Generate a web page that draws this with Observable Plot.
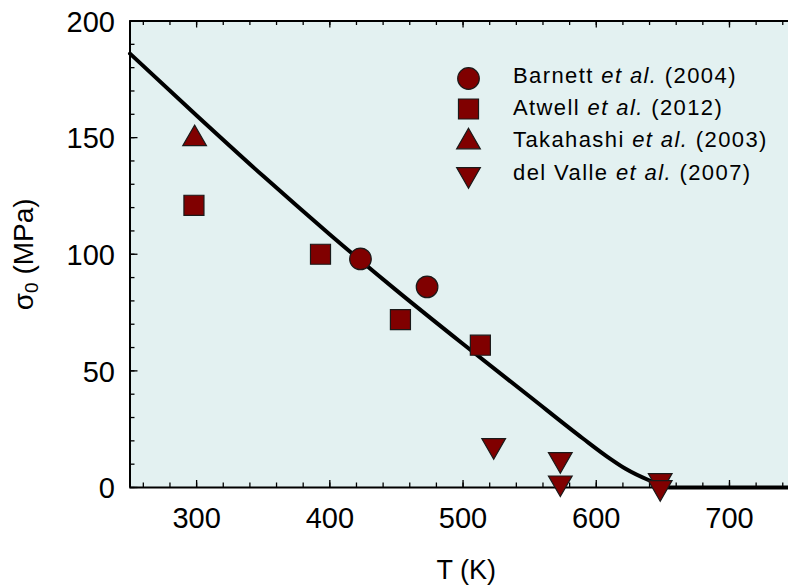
<!DOCTYPE html>
<html><head><meta charset="utf-8">
<script src="https://cdn.jsdelivr.net/npm/d3@7"></script>
<script src="https://cdn.jsdelivr.net/npm/@observablehq/plot@0.6"></script>
<style>
body{margin:0;background:#fff;}
#chart svg{display:block;}
</style></head><body><div id="chart"></div>
<script>
const FONT = "'Liberation Sans', Arial, Helvetica, sans-serif";
const FILL = "#800000";
const EDGE = "#1a1a1a";
const BG = "#e3f1f1";

// model curve
const curveT = [250, 300, 350, 400, 450, 500, 550, 590, 610, 622, 640, 655, 744];
const curveS = [186, 159.5, 133.5, 108.5, 84.5, 61.5, 39, 21, 12.5, 8, 3, 0, 0];

// experimental series
const barnettT = [423, 473];
const barnettS = [98, 86];
const atwellT = [298, 393, 453, 513];
const atwellS = [121, 100, 72, 61];
const takahashiT = [298.5];
const takahashiS = [149.5];
const delValleT = [523, 573, 573, 648, 648];
const delValleS = [18, 12, 2, 3, 0];

// ticks
const xMajor = [300, 400, 500, 600, 700];
const xMinor = d3.range(260, 744, 20);
const yMajor = [0, 50, 100, 150, 200];
const yMinor = d3.range(0, 201, 10);

const legendLabels = ["Barnett et al. (2004)", "Atwell et al. (2012)", "Takahashi et al. (2003)", "del Valle et al. (2007)"];

const triangleDown = {
  draw(context, size) {
    const y = Math.sqrt(size / (Math.sqrt(3) * 3));
    context.moveTo(0, 2 * y);
    context.lineTo(-Math.sqrt(3) * y, -y);
    context.lineTo(Math.sqrt(3) * y, -y);
    context.closePath();
  }
};

const zip = (a, b) => a.map((t, i) => ({t, s: b[i]}));

const W = 788, H = 585, ML = 129.5, MR = 0, MT = 20.5, MB = 98;
const FW = W - ML - MR, FH = H - MT - MB;

const symR = {circle: 10.8, square: 11.3, triangle: 8.8, down: 8.8};
const series = [
  {data: zip(barnettT, barnettS), symbol: "circle", r: symR.circle},
  {data: zip(atwellT, atwellS), symbol: "square", r: symR.square},
  {data: zip(takahashiT, takahashiS), symbol: "triangle", r: symR.triangle},
  {data: zip(delValleT, delValleS), symbol: triangleDown, r: symR.down}
];

const legendMarkerY = [78, 108.5, 141.5, 174];
const legendTextY = [75.3, 107.6, 139.9, 172.2];

const marks = [
  Plot.frame({fill: BG, stroke: null}),
  // inward ticks
  Plot.tickX(xMinor, {x: d => d, insetTop: FH - 4.5, stroke: "#000", strokeWidth: 1.3}),
  Plot.tickX(xMajor, {x: d => d, insetTop: FH - 7, stroke: "#000", strokeWidth: 1.3}),
  Plot.tickX(xMinor, {x: d => d, insetBottom: FH - 4.5, stroke: "#000", strokeWidth: 1.3}),
  Plot.tickX(xMajor, {x: d => d, insetBottom: FH - 7, stroke: "#000", strokeWidth: 1.3}),
  Plot.tickY(yMinor, {y: d => d, insetRight: FW - 5, stroke: "#000", strokeWidth: 1.3}),
  Plot.tickY(yMajor, {y: d => d, insetRight: FW - 8, stroke: "#000", strokeWidth: 1.3}),
  // frame lines
  Plot.ruleX([250], {stroke: "#000", strokeWidth: 2}),
  Plot.ruleY([0], {stroke: "#000", strokeWidth: 2}),
  Plot.ruleY([200], {stroke: "#000", strokeWidth: 2}),
  // tick labels
  Plot.text(xMajor, {x: d => d, text: d => String(d), frameAnchor: "bottom", dy: 31, fontSize: 29, lineAnchor: "middle", textAnchor: "middle"}),
  Plot.text(yMajor, {y: d => d, text: d => String(d), frameAnchor: "left", dx: -15, dy: 1.5, fontSize: 29, lineAnchor: "middle", textAnchor: "end"}),
  // axis titles
  Plot.text(["T (K)"], {text: d => d, frameAnchor: "bottom", dx: 7, dy: 82.7, fontSize: 27, lineAnchor: "middle", textAnchor: "middle"}),
  Plot.text(["σ0 (MPa)"], {text: d => d, frameAnchor: "left", dx: -106.3, fontSize: 28, rotate: -90, lineAnchor: "middle", textAnchor: "middle"}),
  // model curve
  Plot.line(zip(curveT, curveS), {x: "t", y: "s", stroke: "#000", strokeWidth: 4, curve: "monotone-x", strokeLinejoin: "round"}),
  // data
  ...series.map(s => Plot.dot(s.data, {x: "t", y: "s", symbol: s.symbol, r: s.r, fill: FILL, stroke: EDGE, strokeWidth: 1.2})),
  // legend
  ...series.map((s, i) => Plot.dot([legendLabels[i]], {frameAnchor: "top-left", dx: 468 - ML, dy: legendMarkerY[i] - MT, symbol: s.symbol, r: s.r, fill: FILL, stroke: EDGE, strokeWidth: 1.2})),
  ...legendLabels.map((lab, i) => Plot.text([lab], {text: d => d, frameAnchor: "top-left", dx: 512.5 - ML, dy: legendTextY[i] - MT, fontSize: 22, lineAnchor: "middle", textAnchor: "start"}))
];

const chart = Plot.plot({
  width: W, height: H,
  marginLeft: ML, marginRight: MR, marginTop: MT, marginBottom: MB,
  x: {domain: [250, 744.3], axis: null},
  y: {domain: [0, 200], axis: null},
  style: {fontFamily: FONT, background: "#fff", color: "#000"},
  marks
});

d3.select(chart).selectAll("text").each(function() {
  const t = this.textContent;
  const sel = d3.select(this);
  const m = t.match(/^(.*?)(et al\.)(.*)$/);
  if (m) {
    sel.text(null).style("white-space", "pre").attr("letter-spacing", 1.4);
    sel.append("tspan").text(m[1]);
    sel.append("tspan").attr("font-style", "italic").text(m[2]);
    sel.append("tspan").text(m[3]);
  } else if (t === "σ0 (MPa)") {
    sel.text(null).style("white-space", "pre");
    sel.append("tspan").text("σ");
    sel.append("tspan").attr("font-size", 19).attr("dy", 5).text("0");
    sel.append("tspan").attr("dy", -5).text(" (MPa)");
  }
});

document.getElementById("chart").appendChild(chart);
</script>
</body></html>
